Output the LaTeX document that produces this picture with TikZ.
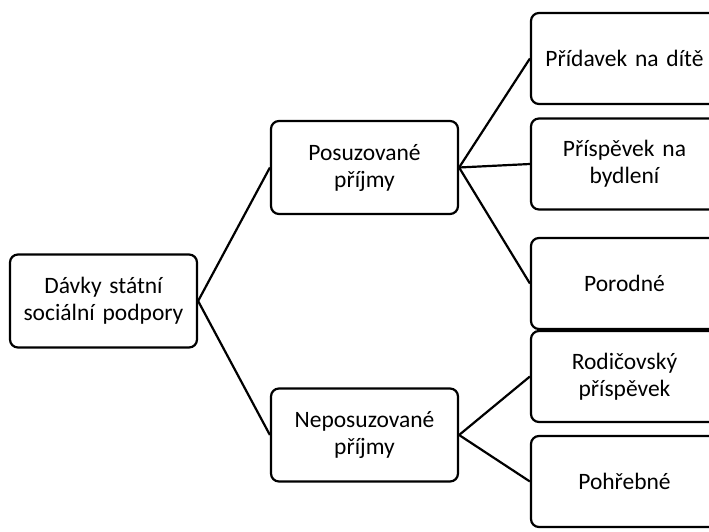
\documentclass[tikz,border=0pt]{standalone}
\usepackage{fontspec}
\setmainfont{Carlito}
\usepackage{tikz}

\tikzset{
  box/.style={draw, line width=2.2pt, rounded corners=8pt, minimum width=187pt, minimum height=93pt, text width=178pt, align=center, font=\fontsize{23.5}{27}\selectfont},
  leaf/.style={box, minimum height=91pt},
  link/.style={line width=2.2pt}
}

\begin{document}
\begin{tikzpicture}[x=1pt, y=-1pt]
      \clip (0,0) rectangle (709,532);
      \node[box] (root) at (103.5, 301) {Dávky státní\\sociální podpory};
      \node[box] (posuz) at (364.5, 167.5) {Posuzované\\příjmy};
      \node[box] (neposuz) at (364.5, 435) {Neposuzované\\příjmy};
      \node[leaf] (pridavek) at (624.5, 58.5) {Přídavek na dítě};
      \node[leaf] (bydleni) at (624.5, 164) {Příspěvek na\\bydlení};
      \node[leaf] (porodne) at (624.5, 283.5) {Porodné};
      \node[leaf] (rodic) at (624.5, 376.5) {Rodičovský\\příspěvek};
      \node[leaf] (pohreb) at (624.5, 481.5) {Pohřebné};
      \draw[link] (root.east) -- (posuz.west);
      \draw[link] (root.east) -- (neposuz.west);
      \draw[link] (posuz.east) -- (pridavek.west);
      \draw[link] (posuz.east) -- (bydleni.west);
      \draw[link] (posuz.east) -- (porodne.west);
      \draw[link] (neposuz.east) -- (rodic.west);
      \draw[link] (neposuz.east) -- (pohreb.west);
    \end{tikzpicture}
\end{document}
